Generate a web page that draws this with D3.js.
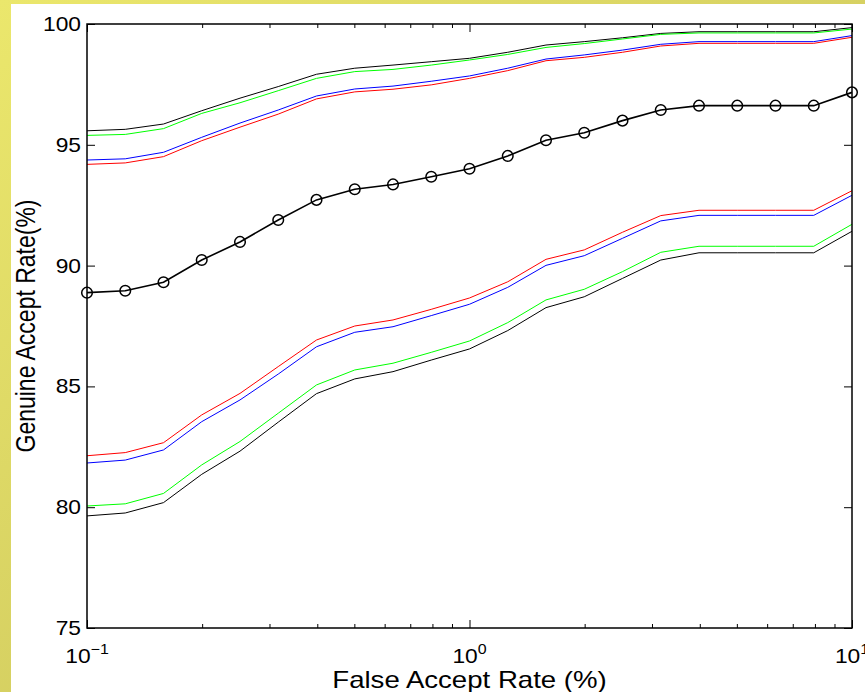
<!DOCTYPE html>
<html>
<head>
<meta charset="utf-8">
<script src="https://cdn.jsdelivr.net/npm/d3@7"></script>
<style>
  html, body { margin: 0; padding: 0; background: #fff; }
  svg { display: block; font-family: "Liberation Sans", Arial, sans-serif; }
</style>
</head>
<body>
<svg id="svg" width="865" height="692"></svg>
<script>
// false accept rate (%) sample points
const far = [0.1, 0.1259, 0.1585, 0.1995, 0.2512, 0.3162, 0.3981, 0.5012, 0.6310, 0.7943,
  1, 1.2589, 1.5849, 1.9953, 2.5119, 3.1623, 3.9811, 5.0119, 6.3096, 7.9433, 10];

// genuine accept rate (%) curves
const meanGar = [88.88, 88.96, 89.31, 90.23, 90.98, 91.89, 92.72, 93.16, 93.36, 93.68, 94.01,
  94.54, 95.19, 95.50, 96.00, 96.44, 96.62, 96.62, 96.62, 96.62, 97.17];
const upperBlack = [95.58, 95.64, 95.86, 96.41, 96.93, 97.41, 97.92, 98.17, 98.30, 98.44, 98.58,
  98.83, 99.13, 99.27, 99.43, 99.61, 99.68, 99.68, 99.68, 99.68, 99.85];
const upperGreen = [95.39, 95.43, 95.67, 96.30, 96.74, 97.24, 97.75, 98.03, 98.12, 98.30, 98.51,
  98.74, 99.03, 99.19, 99.38, 99.57, 99.63, 99.63, 99.63, 99.63, 99.79];
const upperBlue = [94.37, 94.42, 94.69, 95.31, 95.90, 96.44, 97.02, 97.31, 97.43, 97.63, 97.85,
  98.17, 98.55, 98.72, 98.92, 99.16, 99.27, 99.27, 99.27, 99.27, 99.52];
const upperRed = [94.19, 94.25, 94.51, 95.17, 95.73, 96.27, 96.90, 97.19, 97.30, 97.48, 97.75,
  98.07, 98.48, 98.62, 98.83, 99.09, 99.20, 99.20, 99.20, 99.20, 99.45];
const lowerRed = [82.13, 82.26, 82.67, 83.82, 84.71, 85.82, 86.92, 87.50, 87.75, 88.19, 88.66,
  89.33, 90.26, 90.65, 91.38, 92.07, 92.29, 92.29, 92.29, 92.29, 93.10];
const lowerBlue = [81.83, 81.95, 82.37, 83.54, 84.44, 85.51, 86.64, 87.24, 87.47, 87.93, 88.40,
  89.10, 90.01, 90.41, 91.13, 91.85, 92.08, 92.08, 92.08, 92.08, 92.91];
const lowerGreen = [80.05, 80.14, 80.57, 81.75, 82.72, 83.89, 85.06, 85.68, 85.96, 86.41, 86.88,
  87.64, 88.58, 89.02, 89.75, 90.55, 90.80, 90.80, 90.80, 90.80, 91.71];
const lowerBlack = [79.64, 79.76, 80.19, 81.36, 82.32, 83.52, 84.70, 85.31, 85.61, 86.09, 86.55,
  87.31, 88.26, 88.71, 89.47, 90.23, 90.53, 90.53, 90.53, 90.53, 91.42];

// axis ticks
const xMajor = [0.1, 1, 10];
const xMajorExp = ['−1', '0', '1'];
const xMinor = [0.2, 0.3, 0.4, 0.5, 0.6, 0.7, 0.8, 0.9, 2, 3, 4, 5, 6, 7, 8, 9];
const yTicks = [75, 80, 85, 90, 95, 100];

const mLeft = 87, mRight = 852, mTop = 24, mBottom = 628;
const stretch = 1.14;      // tick labels look a bit wide
const titleStretch = 1.2;

let svg = d3.select('#svg');

// yellow frame on the left / top edge
let defs = svg.append('defs');
let grad = defs.append('linearGradient').attr('id', 'frame')
  .attr('x1', '0').attr('y1', '0').attr('x2', '1').attr('y2', '1');
grad.append('stop').attr('offset', '0').attr('stop-color', '#ebe76c');
grad.append('stop').attr('offset', '1').attr('stop-color', '#c2bb58');
svg.append('rect').attr('width', 865).attr('height', 692).attr('fill', 'url(#frame)');
svg.append('rect').attr('x', 11).attr('y', 4).attr('width', 865 - 11).attr('height', 692 - 4).attr('fill', '#fff');

let x = d3.scaleLog().domain([0.1, 10]).range([mLeft, mRight]);
let y = d3.scaleLinear().domain([75, 100]).range([mBottom, mTop]);

function styleAxis(g) {
  g.select('.domain').remove();
  g.selectAll('line').attr('stroke', '#000').attr('stroke-width', 1);
}

// x ticks, bottom and top, pointing inward
svg.append('g').attr('transform', 'translate(0,' + mBottom + ')')
  .call(d3.axisBottom(x).tickValues(xMinor).tickSize(-4).tickFormat(''))
  .call(styleAxis);
svg.append('g').attr('transform', 'translate(0,' + mBottom + ')')
  .call(d3.axisBottom(x).tickValues(xMajor).tickSize(-8).tickFormat(''))
  .call(styleAxis);
svg.append('g').attr('transform', 'translate(0,' + mTop + ')')
  .call(d3.axisTop(x).tickValues(xMinor).tickSize(-4).tickFormat(''))
  .call(styleAxis);
svg.append('g').attr('transform', 'translate(0,' + mTop + ')')
  .call(d3.axisTop(x).tickValues(xMajor).tickSize(-8).tickFormat(''))
  .call(styleAxis);

// y ticks, left with labels and right mirrored
let yAxisG = svg.append('g').attr('transform', 'translate(' + mLeft + ',0)')
  .call(d3.axisLeft(y).tickValues(yTicks).tickSize(-8).tickPadding(6))
  .call(styleAxis);
yAxisG.selectAll('text')
  .attr('font-size', 20).attr('fill', '#000')
  .attr('font-family', '"Liberation Sans", Arial, sans-serif')
  .attr('transform', 'scale(' + stretch + ',1)')
  .attr('x', -6 / stretch);
svg.append('g').attr('transform', 'translate(' + mRight + ',0)')
  .call(d3.axisRight(y).tickValues(yTicks).tickSize(-8).tickFormat(''))
  .call(styleAxis);

// x tick labels 10^k
xMajor.forEach((v, i) => {
  let t = svg.append('text')
    .attr('transform', 'translate(' + x(v) + ',663) scale(' + stretch + ',1)')
    .attr('text-anchor', 'middle').attr('font-size', 20).attr('fill', '#000');
  t.append('tspan').text('10');
  t.append('tspan').attr('dy', -9).attr('font-size', 14).text(xMajorExp[i]);
});

// curves
const thinLines = [
  { data: upperBlack, color: '#000000' },
  { data: upperGreen, color: '#00ff00' },
  { data: upperBlue, color: '#0000ff' },
  { data: upperRed, color: '#ff0000' },
  { data: lowerRed, color: '#ff0000' },
  { data: lowerBlue, color: '#0000ff' },
  { data: lowerGreen, color: '#00ff00' },
  { data: lowerBlack, color: '#000000' }
];

let line = d3.line()
  .x((d, i) => x(far[i]))
  .y(d => y(d));

svg.selectAll('path.band')
  .data(thinLines)
  .enter()
  .append('path')
    .attr('class', 'band')
    .attr('fill', 'none')
    .attr('stroke', d => d.color)
    .attr('stroke-width', 1)
    .attr('d', d => line(d.data));

svg.append('path')
  .datum(meanGar)
  .attr('fill', 'none')
  .attr('stroke', '#000')
  .attr('stroke-width', 1.6)
  .attr('d', line);

svg.selectAll('circle.mark')
  .data(meanGar)
  .enter()
  .append('circle')
    .attr('class', 'mark')
    .attr('cx', (d, i) => x(far[i]))
    .attr('cy', d => y(d))
    .attr('r', 5.3)
    .attr('fill', 'none')
    .attr('stroke', '#000')
    .attr('stroke-width', 1.5);

// axes box
svg.append('rect')
  .attr('x', mLeft).attr('y', mTop)
  .attr('width', mRight - mLeft).attr('height', mBottom - mTop)
  .attr('fill', 'none').attr('stroke', '#000').attr('stroke-width', 1.5);

// axis titles
svg.append('text')
  .attr('transform', 'translate(' + ((mLeft + mRight) / 2) + ',688) scale(' + titleStretch + ',1)')
  .attr('text-anchor', 'middle').attr('font-size', 23).attr('fill', '#000')
  .text('False Accept Rate (%)');
svg.append('text')
  .attr('transform', 'translate(35,' + ((mTop + mBottom) / 2) + ') rotate(-90) scale(1,' + titleStretch + ')')
  .attr('text-anchor', 'middle').attr('font-size', 23).attr('fill', '#000')
  .text('Genuine Accept Rate(%)');
</script>
</body>
</html>
